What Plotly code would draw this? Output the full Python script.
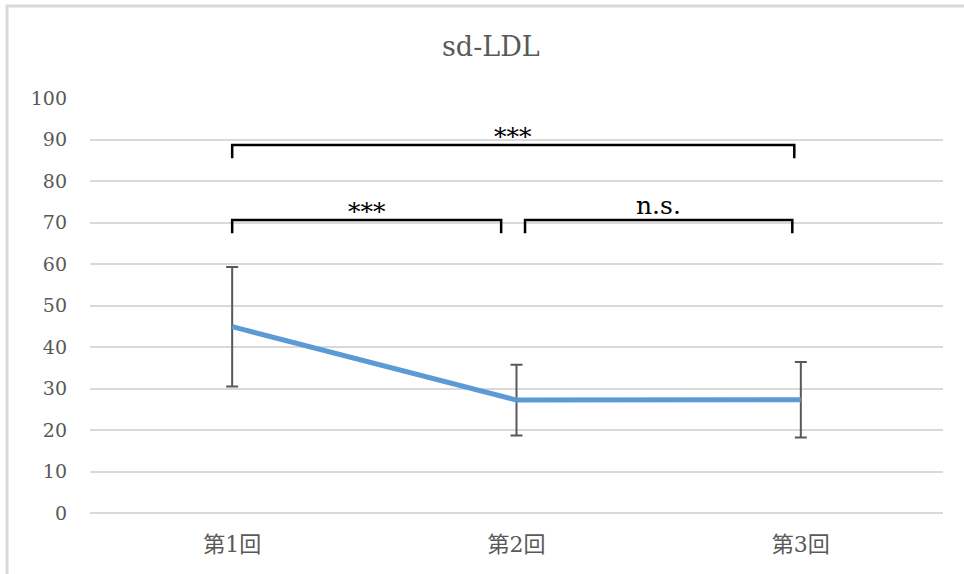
import plotly.graph_objects as go

categories = ["第1回", "第2回", "第3回"]
means = [44.9, 27.2, 27.3]
sds = [14.4, 8.5, 9.1]
y_ticks = [0, 10, 20, 30, 40, 50, 60, 70, 80, 90, 100]

# significance brackets: (x_start, x_end, y_top, drop, label)
brackets = [
    (0.0, 1.977, 88.7, 3.2, "***"),
    (0.0, 0.946, 70.6, 3.2, "***"),
    (1.03, 1.97, 70.6, 3.2, "n.s."),
]

SERIF = "DejaVu Serif"
CJK = "DejaVu Serif, Noto Sans CJK JP"

xpos = list(range(len(categories)))

fig = go.Figure()
fig.add_trace(go.Scatter(
    x=xpos, y=means, mode="lines",
    line=dict(color="#5B9BD5", width=5),
    error_y=dict(type="data", array=sds, visible=True,
                 color="#595959", thickness=2, width=6),
    showlegend=False, hoverinfo="skip",
))

shapes = []
annotations = []
for x0, x1, yt, d, lab in brackets:
    shapes.append(dict(type="path", xref="x", yref="y",
                       path=f"M {x0},{yt-d} L {x0},{yt} L {x1},{yt} L {x1},{yt-d}",
                       line=dict(color="black", width=2.5)))
    annotations.append(dict(x=(x0 + x1) / 2, y=yt, xref="x", yref="y",
                            text=lab, showarrow=False, yanchor="bottom",
                            yshift=-8 if lab == "***" else -2,
                            font=dict(family=SERIF, size=25, color="black")))

# outer chart border (light grey)
shapes.append(dict(type="rect", xref="paper", yref="paper",
                   x0=-0.0973, x1=1.2, y0=-0.3, y1=1.2217,
                   line=dict(color="#D9D9D9", width=3), fillcolor="rgba(0,0,0,0)", layer="below"))

fig.update_layout(
    width=964, height=574,
    margin=dict(l=90, r=21, t=98, b=61),
    paper_bgcolor="white", plot_bgcolor="white",
    font=dict(family=SERIF),
    title=dict(text="sd-LDL", x=0.470, xref="paper", xanchor="center",
               y=1 - 47 / 574, yanchor="middle",
               font=dict(family=SERIF, size=27, color="#595959")),
    xaxis=dict(range=[-0.5, 2.5], tickmode="array", tickvals=xpos, ticktext=categories,
               showgrid=False, zeroline=False, showline=False, ticks="",
               tickfont=dict(family=CJK, size=22, color="#595959"),
               ticklabelstandoff=16,
               fixedrange=True),
    yaxis=dict(range=[0, 100], tickmode="array", tickvals=y_ticks,
               showgrid=True, gridcolor="#D9D9D9", gridwidth=1.5,
               zeroline=True, zerolinecolor="#D9D9D9", zerolinewidth=1.5,
               showline=False, ticks="", ticklabelstandoff=22,
               tickfont=dict(family=SERIF, size=19, color="#595959"),
               fixedrange=True),
    shapes=shapes,
    annotations=annotations,
)

fig.write_html("out.html")
